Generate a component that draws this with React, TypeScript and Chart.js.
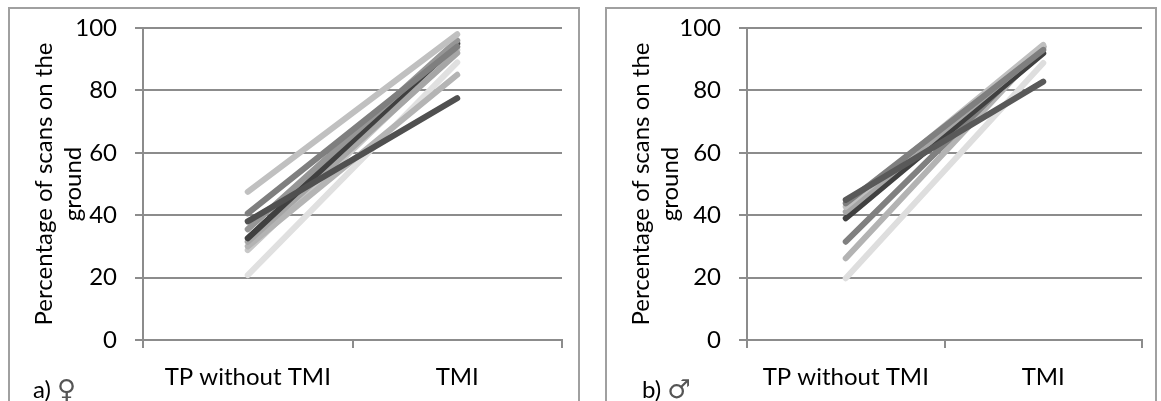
import React, { useEffect, useRef } from "react";
import { Chart, registerables } from "chart.js";

Chart.register(...registerables);

// Two conditions per individual: time period without TMI, and TMI
const categories = ["TP without TMI", "TMI"];
const yTicks = [0, 20, 40, 60, 80, 100];
const yTitle = ["Percentage of scans on the", "ground"];

// Females: percentage of scans on the ground per individual
const femaleStart = [47.5, 40.6, 38.0, 35.5, 32.6, 31.5, 30.0, 28.8, 20.8];
const femaleEnd = [98.0, 94.0, 77.5, 96.0, 95.0, 92.0, 85.0, 93.0, 89.0];
const femaleColors = ["#c0c0c0", "#7f7f7f", "#505050", "#969696", "#404040", "#a6a6a6", "#b4b4b4", "#c8c8c8", "#e0e0e0"];

// Males: percentage of scans on the ground per individual
const maleStart = [44.9, 43.8, 42.7, 41.1, 39.0, 31.5, 26.2, 19.8];
const maleEnd = [82.8, 93.0, 94.6, 93.5, 91.9, 94.0, 94.0, 88.8];
const maleColors = ["#595959", "#7f7f7f", "#bfbfbf", "#a6a6a6", "#404040", "#808080", "#b3b3b3", "#dedede"];

const FONT = "Lato, 'Liberation Sans', sans-serif";
const GRID = "#8c8c8c";

type PanelProps = {
  left: number;
  width: number;
  yWidth: number;
  padRight: number;
  starts: number[];
  ends: number[];
  colors: string[];
  tagText: string;
  tagSymbol: string;
  tagLeft: number;
};

function Panel(p: PanelProps) {
  const ref = useRef<HTMLCanvasElement | null>(null);
  const canvasW = p.width - 4;
  const canvasH = 392;

  useEffect(() => {
    if (!ref.current) return;
    const datasets = p.starts.map((s, i) => ({
      data: [s, p.ends[i]],
      borderColor: p.colors[i],
      backgroundColor: p.colors[i],
      borderWidth: 6,
      borderCapStyle: "round" as const,
      pointRadius: 0,
      tension: 0,
    }));
    const chart = new Chart(ref.current, {
      type: "line",
      data: { labels: categories, datasets },
      options: {
        animation: false,
        responsive: false,
        maintainAspectRatio: false,
        layout: { padding: { top: 19, right: p.padRight, left: 0, bottom: 0 } },
        plugins: { legend: { display: false }, tooltip: { enabled: false } },
        scales: {
          x: {
            type: "category",
            offset: true,
            grid: {
              offset: true,
              drawOnChartArea: false,
              drawTicks: true,
              tickLength: 8,
              color: GRID,
              lineWidth: 2,
            },
            border: { display: true, color: GRID, width: 2 },
            ticks: { color: "#000", font: { family: FONT, size: 24 }, padding: 15 },
            afterFit: (s: any) => {
              s.height = canvasH - 331;
            },
          },
          y: {
            min: 0,
            max: 100,
            afterBuildTicks: (s: any) => {
              s.ticks = yTicks.map((v) => ({ value: v }));
            },
            grid: { color: GRID, lineWidth: 2, drawTicks: true, tickLength: 8 },
            border: { display: true, color: GRID, width: 2 },
            ticks: { color: "#000", font: { family: FONT, size: 24 }, padding: 18 },
            title: {
              display: true,
              text: yTitle,
              color: "#000",
              font: { family: FONT, size: 24 },
              padding: { top: 20, bottom: 0 },
            },
            afterFit: (s: any) => {
              s.width = p.yWidth;
              s.paddingTop = 0;
              s.paddingBottom = 0;
            },
          },
        },
      },
    });
    return () => chart.destroy();
  }, []);

  return (
    <div
      style={{
        position: "absolute",
        left: p.left,
        top: 7,
        width: p.width,
        height: 430,
        boxSizing: "border-box",
        border: "2px solid #a0a0a0",
        background: "#fff",
      }}
    >
      <canvas ref={ref} width={canvasW} height={canvasH} style={{ display: "block", width: canvasW, height: canvasH }} />
      <div
        style={{
          position: "absolute",
          left: p.tagLeft,
          top: 368,
          fontFamily: FONT,
          fontSize: 24,
          lineHeight: "24px",
          color: "#000",
          whiteSpace: "nowrap",
        }}
      >
        {p.tagText}
        <span style={{ fontFamily: "'DejaVu Sans', sans-serif", fontSize: 26, color: "#555" }}>{p.tagSymbol}</span>
      </div>
    </div>
  );
}

export default function App() {
  return (
    <div style={{ position: "fixed", inset: 0, overflow: "hidden", background: "#fff" }}>
      <Panel
        left={8}
        width={572}
        yWidth={133}
        padRight={16}
        starts={femaleStart}
        ends={femaleEnd}
        colors={femaleColors}
        tagText="a) "
        tagSymbol="♀"
        tagLeft={23}
      />
      <Panel
        left={605}
        width={552}
        yWidth={140}
        padRight={13}
        starts={maleStart}
        ends={maleEnd}
        colors={maleColors}
        tagText="b) "
        tagSymbol="♂"
        tagLeft={35}
      />
    </div>
  );
}
